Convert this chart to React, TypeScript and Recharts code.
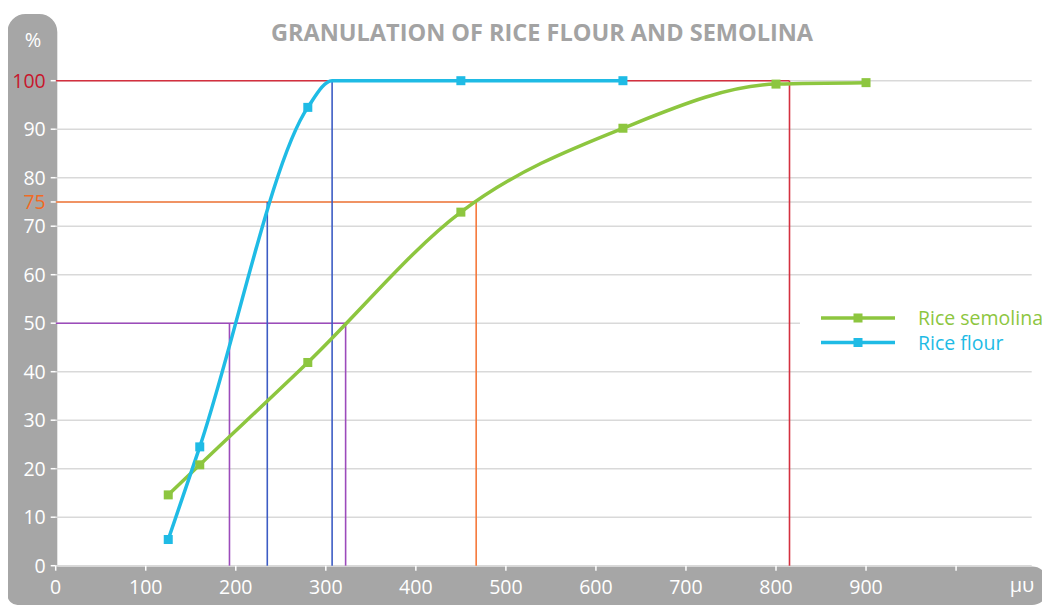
import React from "react";
import {
  LineChart,
  Line,
  XAxis,
  YAxis,
  CartesianGrid,
  ReferenceLine,
  Legend,
} from "recharts";

// sieve openings (μ) and cumulative % passing
const sieveSemolina = [125, 160, 280, 450, 630, 800, 900];
const pctSemolina = [14.6, 20.8, 41.9, 72.9, 90.2, 99.3, 99.6];

const sieveFlour = [125, 160, 280, 307, 450, 630];
const pctFlour = [5.4, 24.5, 94.5, 100, 100, 100];
const flourMarker = [true, true, true, false, true, true];

const xTicks = [0, 100, 200, 300, 400, 500, 600, 700, 800, 900, 1000];
const yTicks = [0, 10, 20, 30, 40, 50, 60, 70, 75, 80, 90, 100];

// reading guides: horizontal at a % level, vertical at a sieve size
const hGuidePct = [100, 75, 50];
const hGuideEnd = [815, 467, 322];
const vGuideX = [815, 467, 193, 322, 235, 307];
const vGuideTop = [100, 75, 50, 50, 75, 100];

const seriesNames = ["Rice semolina", "Rice flour"];

const RED = "#d4303f";
const ORANGE = "#f5783a";
const PURPLE = "#9c4bbb";
const NAVY = "#3d5cc4";
const GREEN = "#8dc63f";
const BLUE = "#1fbbe5";
const BAND = "#a6a6a6";
const FONT = "'Open Sans', sans-serif";

const hGuideColor = [RED, ORANGE, PURPLE];
const vGuideColor = [RED, ORANGE, PURPLE, PURPLE, NAVY, NAVY];

const semolinaData = sieveSemolina.map((x, i) => ({ x, y: pctSemolina[i], mark: true }));
const flourData = sieveFlour.map((x, i) => ({ x, y: pctFlour[i], mark: flourMarker[i] }));

const squareDot = (color: string) => (props: any) => {
  const { cx, cy, payload, index } = props;
  if (!payload.mark) return <g key={index} />;
  return <rect key={index} x={cx - 4.5} y={cy - 4.5} width={9} height={9} fill={color} />;
};

const XTick = (props: any) => {
  const { x, y, payload } = props;
  if (payload.value === 1000) return <g />;
  return (
    <text x={x} y={y + 21} textAnchor="middle" fill="#fff" fontSize={19.5} fontFamily={FONT}>
      {payload.value}
    </text>
  );
};

const YTick = (props: any) => {
  const { x, y, payload } = props;
  const v = payload.value;
  const fill = v === 100 ? "#c8162c" : v === 75 ? "#f26a24" : "#fff";
  return (
    <text x={x} y={y} dy="0.36em" textAnchor="end" fill={fill} fontSize={19.5} fontFamily={FONT}>
      {v}
    </text>
  );
};

const LegendBox = () => {
  const colors = [GREEN, BLUE];
  return (
    <svg width={250} height={56} style={{ display: "block" }}>
      <rect x={0} y={0} width={250} height={56} fill="#fff" />
      {seriesNames.map((name, i) => {
        const cy = 20 + i * 24.5;
        return (
          <g key={name}>
            <line x1={21} x2={95} y1={cy} y2={cy} stroke={colors[i]} strokeWidth={3.5} />
            <rect x={53.5} y={cy - 4.5} width={9} height={9} fill={colors[i]} />
            <text x={118} y={cy} dy="0.36em" fill={colors[i]} fontSize={19.5} fontFamily={FONT}>
              {name}
            </text>
          </g>
        );
      })}
    </svg>
  );
};

export default function App() {
  return (
    <div style={{ position: "relative", width: 1042, height: 598, fontFamily: FONT }}>
      <svg
        width={1050}
        height={606}
        style={{ position: "absolute", left: -8, top: -8 }}
      >
        <path
          d="M 7.5 32 A 18 18 0 0 1 25.5 14 L 39.3 14 A 18 18 0 0 1 57.3 32 L 57.3 566.5 L 1032 566.5 A 16 16 0 0 1 1048 582.5 L 1048 589 A 16 16 0 0 1 1032 605 L 17.5 605 A 10 10 0 0 1 7.5 595 Z"
          fill={BAND}
        />
        <text
          x={542}
          y={41}
          textAnchor="middle"
          fill="#a3a3a3"
          fontSize={23.5}
          fontWeight={700}
          fontFamily={FONT}
        >
          GRANULATION OF RICE FLOUR AND SEMOLINA
        </text>
        <text x={33} y={47} textAnchor="middle" fill="#fff" fontSize={20} fontFamily={FONT}>
          %
        </text>
        <text x={1022} y={592} textAnchor="middle" fill="#fff" fontSize={20} fontFamily={FONT}>
          μυ
        </text>
      </svg>
      <div style={{ position: "absolute", left: 0, top: 0 }}>
        <LineChart
          width={1042}
          height={598}
          margin={{ top: 72.7, right: 18.3, bottom: 10.3, left: 7.7 }}
        >
          <CartesianGrid vertical={false} stroke="#d9d9d9" strokeWidth={1.5} />
          <XAxis
            dataKey="x"
            type="number"
            domain={[0, 1084]}
            ticks={xTicks}
            interval={0}
            axisLine={false}
            tickSize={5}
            tickMargin={2}
            tickLine={{ stroke: "#fff", strokeWidth: 1.5 }}
            height={30}
            tick={<XTick />}
          />
          <YAxis
            type="number"
            domain={[0, 100]}
            ticks={yTicks}
            interval={0}
            width={40}
            axisLine={false}
            tickSize={5}
            tickMargin={5}
            tickLine={{ stroke: "#fff", strokeWidth: 1.5 }}
            tick={<YTick />}
          />
          {hGuidePct.map((p, i) => (
            <ReferenceLine
              key={"h" + i}
              segment={[
                { x: 0, y: p },
                { x: hGuideEnd[i], y: p },
              ]}
              stroke={hGuideColor[i]}
              strokeWidth={1.6}
            />
          ))}
          {vGuideX.map((x, i) => (
            <ReferenceLine
              key={"v" + i}
              segment={[
                { x, y: 0 },
                { x, y: vGuideTop[i] },
              ]}
              stroke={vGuideColor[i]}
              strokeWidth={1.6}
            />
          ))}
          <Line
            data={semolinaData}
            dataKey="y"
            name={seriesNames[0]}
            type="monotoneX"
            stroke={GREEN}
            strokeWidth={3.5}
            dot={squareDot(GREEN)}
            activeDot={false}
            isAnimationActive={false}
          />
          <Line
            data={flourData}
            dataKey="y"
            name={seriesNames[1]}
            type="monotoneX"
            stroke={BLUE}
            strokeWidth={3.5}
            dot={squareDot(BLUE)}
            activeDot={false}
            isAnimationActive={false}
          />
          <Legend
            verticalAlign="middle"
            align="center"
            wrapperStyle={{ left: 792, top: 290, width: 250, height: 56 }}
            content={() => <LegendBox />}
          />
        </LineChart>
      </div>
    </div>
  );
}
